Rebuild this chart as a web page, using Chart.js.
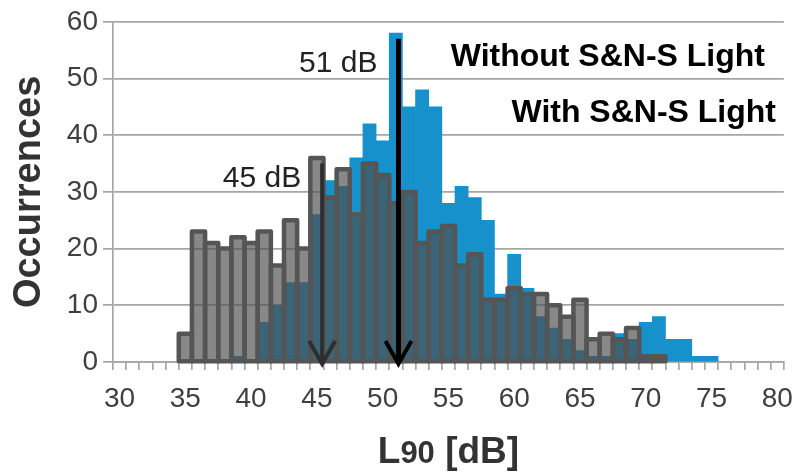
<!DOCTYPE html>
<html lang="en">
<head>
  <meta charset="UTF-8">
  <title>L90 Histogram</title>
  <script src="https://cdn.jsdelivr.net/npm/chart.js"></script>
  <style>
    html, body {
      margin: 0;
      padding: 0;
      background: #fff;
    }
    #wrap {
      width: 805px;
      height: 472px;
    }
  </style>
</head>
<body>
  <div id="wrap"><canvas id="histChart" width="805" height="472"></canvas></div>

  <script>
    // categories: L90 classes in dB (1 dB bins)
    const levels = ['30', '31', '32', '33', '34', '35', '36', '37', '38', '39',
                    '40', '41', '42', '43', '44', '45', '46', '47', '48', '49',
                    '50', '51', '52', '53', '54', '55', '56', '57', '58', '59',
                    '60', '61', '62', '63', '64', '65', '66', '67', '68', '69',
                    '70', '71', '72', '73', '74', '75', '76', '77', '78', '79', '80'];

    // occurrences without S&N-S light (grey outlined bars)
    const withoutLight = [null, null, null, null, null, 5, 23, 21, 20, 22,
                          21, 23, 17, 25, 20, 36, 29, 34, 26, 35,
                          33, 28, 30, 21, 23, 24, 17, 19, 11, 11,
                          13, 12, 12, 10, 8, 11, 4, 5, 4, 6,
                          1, 1, null, null, null, null, null, null, null, null, null];

    // occurrences with S&N-S light (blue bars)
    const withLight = [null, null, null, null, null, null, null, null, null, 1,
                       null, 7, 10, 14, 14, 26, 32, 31, 36, 42,
                       39, 58, 45, 48, 45, 28, 31, 29, 25, 12,
                       19, 13, 8, 6, 4, 2, 1, 1, 5, 4,
                       7, 8, 4, 4, 1, 1, null, null, null, null, null];

    const yTicks = [0, 10, 20, 30, 40, 50, 60];
    const seriesNames = ['Without S&N-S Light', 'With S&N-S Light'];

    // mean markers (dB), their labels and arrow start height (occurrences)
    const meanLevels = [51.2, 45.4];
    const meanLabels = ['51 dB', '45 dB'];
    const arrowTops = [57, 35];

    const fontFam = "'Liberation Sans', Arial, sans-serif";

    const extrasPlugin = {
      id: 'extras',
      afterDatasetsDraw(chart) {
        const ctx = chart.ctx;
        const xs = chart.scales.x;
        const ys = chart.scales.y;

        // outlines of the grey bars
        const meta = chart.getDatasetMeta(0);
        ctx.save();
        ctx.lineWidth = 4.5;
        ctx.strokeStyle = '#555555';
        ctx.lineJoin = 'round';
        meta.data.forEach((bar, i) => {
          if (withoutLight[i] == null) return;
          const p = bar.getProps(['x', 'y', 'base', 'width'], true);
          ctx.strokeRect(p.x - p.width / 2, p.y, p.width, p.base - p.y);
        });
        ctx.restore();

        // arrows for the mean levels
        const arrowColors = ['#000000', '#2e2e2e'];
        const arrowWidths = [5, 4];
        meanLevels.forEach((lv, i) => {
          const px = xs.getPixelForValue(lv - Number(levels[0]));
          const top = ys.getPixelForValue(arrowTops[i]);
          const tip = ys.getPixelForValue(0) + 4;
          ctx.save();
          ctx.strokeStyle = arrowColors[i];
          ctx.lineWidth = arrowWidths[i];
          ctx.beginPath();
          ctx.moveTo(px, top);
          ctx.lineTo(px, tip - 2);
          ctx.stroke();
          ctx.lineWidth = 4;
          ctx.lineJoin = 'miter';
          ctx.beginPath();
          ctx.moveTo(px - 13, tip - 25);
          ctx.lineTo(px, tip - 2);
          ctx.lineTo(px + 13, tip - 25);
          ctx.stroke();

          ctx.fillStyle = '#222222';
          ctx.font = '30px ' + fontFam;
          ctx.textAlign = 'right';
          ctx.textBaseline = 'alphabetic';
          ctx.fillText(meanLabels[i], px - 21, top + (i === 0 ? 33 : 23));
          ctx.restore();
        });

        // series names
        ctx.save();
        ctx.fillStyle = '#000000';
        ctx.font = 'bold 32px ' + fontFam;
        ctx.textAlign = 'right';
        ctx.textBaseline = 'alphabetic';
        ctx.fillText(seriesNames[0], 765, 66);
        ctx.fillText(seriesNames[1], 776, 122);
        ctx.restore();

        // x axis title with subscript
        const cx = (chart.chartArea.left + chart.chartArea.right) / 2;
        const base = 463;
        ctx.save();
        ctx.fillStyle = '#333333';
        ctx.textBaseline = 'alphabetic';
        ctx.textAlign = 'left';
        const big = 'bold 37px ' + fontFam;
        const small = 'bold 31px ' + fontFam;
        ctx.font = big;
        const wL = ctx.measureText('L').width;
        const wRest = ctx.measureText(' [dB]').width;
        ctx.font = small;
        const wSub = ctx.measureText('90').width;
        const x0 = cx - (wL + wSub + wRest) / 2;
        ctx.font = big;
        ctx.fillText('L', x0, base);
        ctx.font = small;
        ctx.fillText('90', x0 + wL, base);
        ctx.font = big;
        ctx.fillText(' [dB]', x0 + wL + wSub, base);
        ctx.restore();
      }
    };

    new Chart(document.getElementById('histChart'), {
      type: 'bar',
      data: {
        labels: levels,
        datasets: [
          {
            label: seriesNames[0],
            data: withoutLight,
            backgroundColor: 'rgba(78, 78, 78, 0.67)',
            borderWidth: 0,
            grouped: false,
            barPercentage: 1,
            categoryPercentage: 1
          },
          {
            label: seriesNames[1],
            data: withLight,
            backgroundColor: '#1791cb',
            borderWidth: 0,
            grouped: false,
            barPercentage: 1,
            categoryPercentage: 1
          }
        ]
      },
      options: {
        responsive: false,
        animation: false,
        layout: {
          padding: { left: 0, right: 13, top: 19, bottom: 0 }
        },
        plugins: {
          legend: { display: false },
          tooltip: { enabled: false }
        },
        scales: {
          x: {
            afterFit: (s) => { s.height = 110; },
            border: { color: '#a6a6a6', width: 1.7 },
            grid: {
              offset: true,
              drawOnChartArea: false,
              drawTicks: true,
              tickLength: 8,
              color: '#a6a6a6',
              lineWidth: 1.7
            },
            ticks: {
              autoSkip: false,
              maxRotation: 0,
              padding: 12,
              color: '#404040',
              font: { family: fontFam, size: 28 },
              callback: function (val, idx) {
                return idx % 5 === 0 ? levels[idx] : '';
              }
            }
          },
          y: {
            min: 0,
            max: 60,
            afterFit: (s) => { s.width = 113; },
            afterBuildTicks: (s) => { s.ticks = yTicks.map(v => ({ value: v })); },
            border: { color: '#a6a6a6', width: 1.7 },
            grid: {
              color: '#a6a6a6',
              lineWidth: 1.7,
              tickLength: 10
            },
            ticks: {
              padding: 5,
              color: '#404040',
              font: { family: fontFam, size: 28 }
            },
            title: {
              display: true,
              text: 'Occurrences',
              color: '#333333',
              font: { family: fontFam, size: 38, weight: 'bold' },
              padding: { top: 7, bottom: 0 }
            }
          }
        }
      },
      plugins: [extrasPlugin]
    });
  </script>
</body>
</html>
